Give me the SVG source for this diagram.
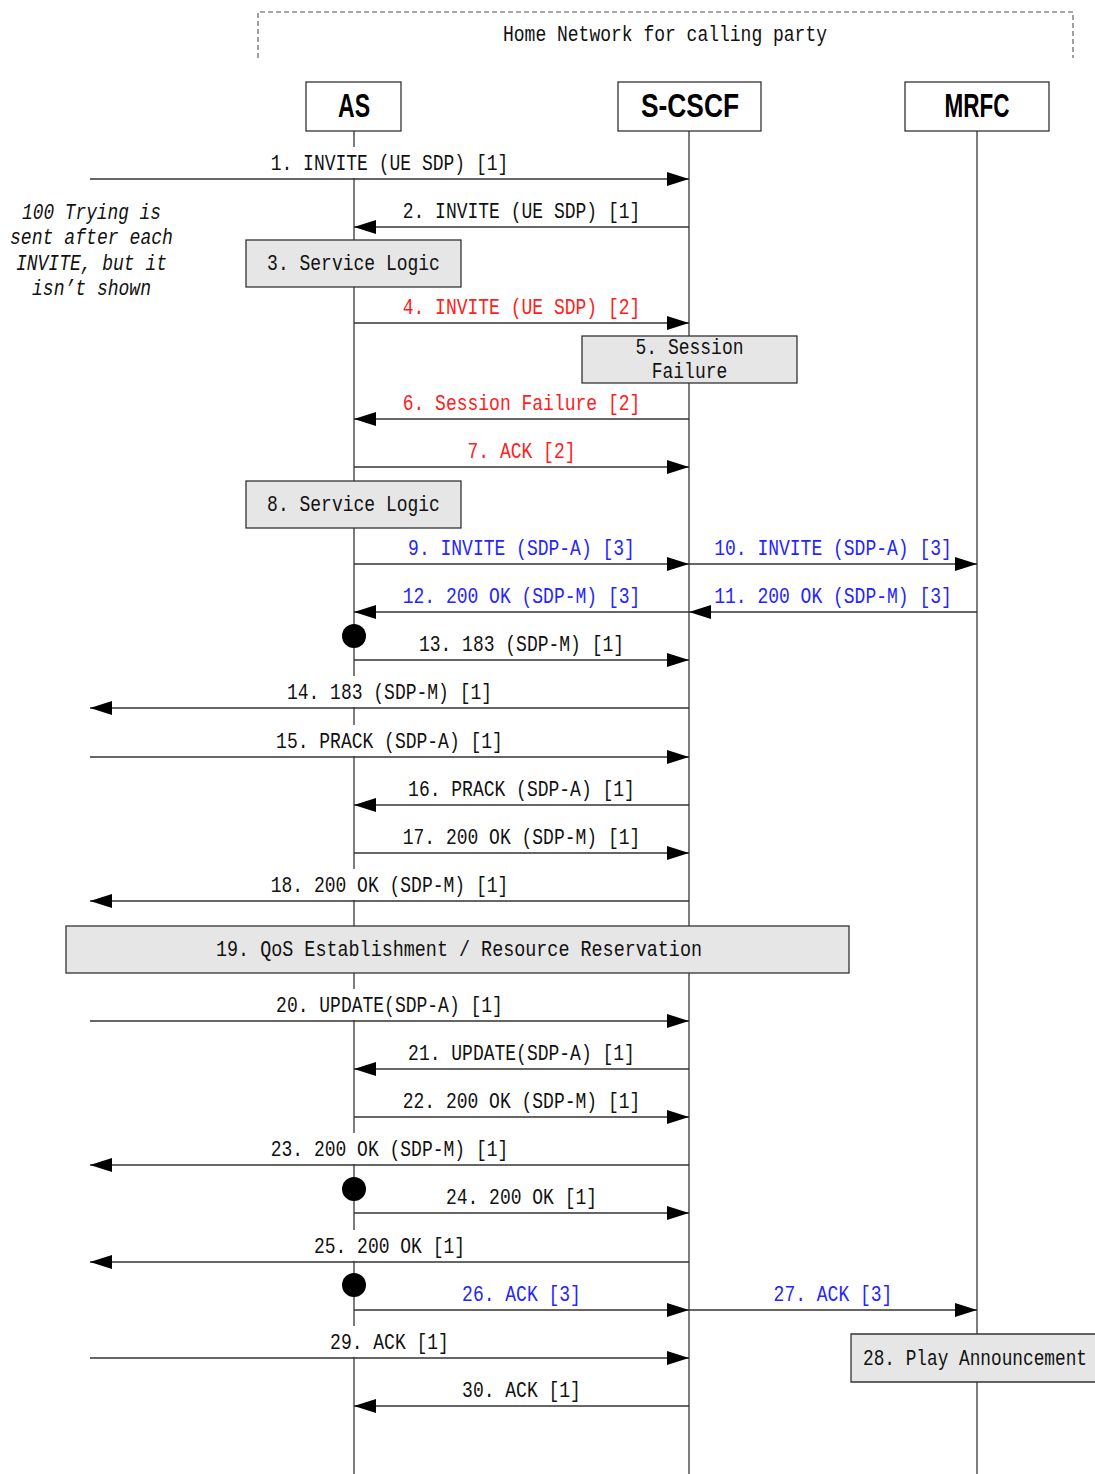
<svg xmlns="http://www.w3.org/2000/svg" width="1095" height="1474" viewBox="0 0 1095 1474">
<style>
.ll{stroke:#111;stroke-width:1.1;fill:none}
.msg{stroke:#333;stroke-width:1.3;fill:none}
.lbl{font-family:"Liberation Mono","DejaVu Sans Mono",monospace;font-size:22px;text-anchor:middle;fill:#111}
.it{font-style:italic}
.bg{fill:#fff}
.box{fill:#e6e6e6;stroke:#333;stroke-width:1.3}
.hdr{fill:#fff;stroke:#333;stroke-width:1.3}
.ttl{font-family:"Liberation Sans",Arial,sans-serif;font-weight:bold;font-size:33px;text-anchor:middle;fill:#000}
.red{fill:#ff2020}
.blue{fill:#2424ff}
.dot{fill:#000}
</style>
<defs>
<marker id="ah" markerUnits="userSpaceOnUse" markerWidth="22" markerHeight="14" refX="22" refY="7" orient="auto">
<path d="M0,0 L22,7 L0,14 z" fill="#000"/>
</marker>
</defs>

<g id="frame">
<path d="M258,58 V12 H1073 V58" fill="none" stroke="#555" stroke-width="1.1" stroke-dasharray="5,3"/>
<text class="lbl" x="665" y="41" textLength="324" lengthAdjust="spacingAndGlyphs">Home Network for calling party</text>
</g>

<g id="lifelines">
<line class="ll" x1="354" y1="131" x2="354" y2="1474"/>
<line class="ll" x1="689" y1="131" x2="689" y2="1474"/>
<line class="ll" x1="977" y1="131" x2="977" y2="1474"/>
</g>

<g id="AS"><rect class="hdr" x="306" y="82" width="95" height="49"/><text class="ttl" x="354" y="117" textLength="32" lengthAdjust="spacingAndGlyphs">AS</text></g>
<g id="S-CSCF"><rect class="hdr" x="618" y="82" width="143" height="49"/><text class="ttl" x="690" y="117" textLength="98" lengthAdjust="spacingAndGlyphs">S-CSCF</text></g>
<g id="MRFC"><rect class="hdr" x="905" y="82" width="144" height="49"/><text class="ttl" x="977" y="117" textLength="65" lengthAdjust="spacingAndGlyphs">MRFC</text></g>

<g id="note">
<text class="lbl it" x="91.5" y="219" textLength="139" lengthAdjust="spacingAndGlyphs">100 Trying is</text>
<text class="lbl it" x="91.5" y="244" textLength="163" lengthAdjust="spacingAndGlyphs">sent after each</text>
<text class="lbl it" x="91.5" y="270" textLength="151" lengthAdjust="spacingAndGlyphs">INVITE, but it</text>
<text class="lbl it" x="91.5" y="295" textLength="119" lengthAdjust="spacingAndGlyphs">isn’t shown</text>
</g>

<g id="connectors">
<line class="msg" x1="90" y1="179" x2="689" y2="179" marker-end="url(#ah)"/>
<line class="msg" x1="689" y1="227" x2="354" y2="227" marker-end="url(#ah)"/>
<line class="msg" x1="354" y1="323" x2="689" y2="323" marker-end="url(#ah)"/>
<line class="msg" x1="689" y1="419" x2="354" y2="419" marker-end="url(#ah)"/>
<line class="msg" x1="354" y1="467" x2="689" y2="467" marker-end="url(#ah)"/>
<line class="msg" x1="354" y1="564" x2="689" y2="564" marker-end="url(#ah)"/>
<line class="msg" x1="689" y1="564" x2="977" y2="564" marker-end="url(#ah)"/>
<line class="msg" x1="977" y1="612" x2="689" y2="612" marker-end="url(#ah)"/>
<line class="msg" x1="689" y1="612" x2="354" y2="612" marker-end="url(#ah)"/>
<line class="msg" x1="354" y1="660" x2="689" y2="660" marker-end="url(#ah)"/>
<line class="msg" x1="689" y1="708" x2="90" y2="708" marker-end="url(#ah)"/>
<line class="msg" x1="90" y1="757" x2="689" y2="757" marker-end="url(#ah)"/>
<line class="msg" x1="689" y1="805" x2="354" y2="805" marker-end="url(#ah)"/>
<line class="msg" x1="354" y1="853" x2="689" y2="853" marker-end="url(#ah)"/>
<line class="msg" x1="689" y1="901" x2="90" y2="901" marker-end="url(#ah)"/>
<line class="msg" x1="90" y1="1021" x2="689" y2="1021" marker-end="url(#ah)"/>
<line class="msg" x1="689" y1="1069" x2="354" y2="1069" marker-end="url(#ah)"/>
<line class="msg" x1="354" y1="1117" x2="689" y2="1117" marker-end="url(#ah)"/>
<line class="msg" x1="689" y1="1165" x2="90" y2="1165" marker-end="url(#ah)"/>
<line class="msg" x1="354" y1="1213" x2="689" y2="1213" marker-end="url(#ah)"/>
<line class="msg" x1="689" y1="1262" x2="90" y2="1262" marker-end="url(#ah)"/>
<line class="msg" x1="354" y1="1310" x2="689" y2="1310" marker-end="url(#ah)"/>
<line class="msg" x1="689" y1="1310" x2="977" y2="1310" marker-end="url(#ah)"/>
<line class="msg" x1="90" y1="1358" x2="689" y2="1358" marker-end="url(#ah)"/>
<line class="msg" x1="689" y1="1406" x2="354" y2="1406" marker-end="url(#ah)"/>
<circle class="dot" cx="354" cy="636" r="12"/>
<circle class="dot" cx="354" cy="1189" r="12"/>
<circle class="dot" cx="354" cy="1285" r="12"/>
</g>

<g id="labels">
<rect class="bg" x="264.7" y="147" width="249.6" height="31"/>
<text class="lbl" x="389.5" y="170" textLength="237.6" lengthAdjust="spacingAndGlyphs">1. INVITE (UE SDP) [1]</text>
<text class="lbl" x="521.5" y="218" textLength="237.6" lengthAdjust="spacingAndGlyphs">2. INVITE (UE SDP) [1]</text>
<text class="lbl red" x="521.5" y="314" textLength="237.6" lengthAdjust="spacingAndGlyphs">4. INVITE (UE SDP) [2]</text>
<text class="lbl red" x="521.5" y="410" textLength="237.6" lengthAdjust="spacingAndGlyphs">6. Session Failure [2]</text>
<text class="lbl red" x="521.5" y="458" textLength="108" lengthAdjust="spacingAndGlyphs">7. ACK [2]</text>
<text class="lbl blue" x="521.5" y="555" textLength="226.8" lengthAdjust="spacingAndGlyphs">9. INVITE (SDP-A) [3]</text>
<text class="lbl blue" x="833" y="555" textLength="237.6" lengthAdjust="spacingAndGlyphs">10. INVITE (SDP-A) [3]</text>
<text class="lbl blue" x="833" y="603" textLength="237.6" lengthAdjust="spacingAndGlyphs">11. 200 OK (SDP-M) [3]</text>
<text class="lbl blue" x="521.5" y="603" textLength="237.6" lengthAdjust="spacingAndGlyphs">12. 200 OK (SDP-M) [3]</text>
<text class="lbl" x="521.5" y="651" textLength="205.2" lengthAdjust="spacingAndGlyphs">13. 183 (SDP-M) [1]</text>
<rect class="bg" x="280.9" y="676" width="217.2" height="31"/>
<text class="lbl" x="389.5" y="699" textLength="205.2" lengthAdjust="spacingAndGlyphs">14. 183 (SDP-M) [1]</text>
<rect class="bg" x="270.1" y="725" width="238.8" height="31"/>
<text class="lbl" x="389.5" y="748" textLength="226.8" lengthAdjust="spacingAndGlyphs">15. PRACK (SDP-A) [1]</text>
<text class="lbl" x="521.5" y="796" textLength="226.8" lengthAdjust="spacingAndGlyphs">16. PRACK (SDP-A) [1]</text>
<text class="lbl" x="521.5" y="844" textLength="237.6" lengthAdjust="spacingAndGlyphs">17. 200 OK (SDP-M) [1]</text>
<rect class="bg" x="264.7" y="869" width="249.6" height="31"/>
<text class="lbl" x="389.5" y="892" textLength="237.6" lengthAdjust="spacingAndGlyphs">18. 200 OK (SDP-M) [1]</text>
<rect class="bg" x="270.1" y="989" width="238.8" height="31"/>
<text class="lbl" x="389.5" y="1012" textLength="226.8" lengthAdjust="spacingAndGlyphs">20. UPDATE(SDP-A) [1]</text>
<text class="lbl" x="521.5" y="1060" textLength="226.8" lengthAdjust="spacingAndGlyphs">21. UPDATE(SDP-A) [1]</text>
<text class="lbl" x="521.5" y="1108" textLength="237.6" lengthAdjust="spacingAndGlyphs">22. 200 OK (SDP-M) [1]</text>
<rect class="bg" x="264.7" y="1133" width="249.6" height="31"/>
<text class="lbl" x="389.5" y="1156" textLength="237.6" lengthAdjust="spacingAndGlyphs">23. 200 OK (SDP-M) [1]</text>
<text class="lbl" x="521.5" y="1204" textLength="151.2" lengthAdjust="spacingAndGlyphs">24. 200 OK [1]</text>
<rect class="bg" x="307.9" y="1230" width="163.2" height="31"/>
<text class="lbl" x="389.5" y="1253" textLength="151.2" lengthAdjust="spacingAndGlyphs">25. 200 OK [1]</text>
<text class="lbl blue" x="521.5" y="1301" textLength="118.8" lengthAdjust="spacingAndGlyphs">26. ACK [3]</text>
<text class="lbl blue" x="833" y="1301" textLength="118.8" lengthAdjust="spacingAndGlyphs">27. ACK [3]</text>
<rect class="bg" x="324.1" y="1326" width="130.8" height="31"/>
<text class="lbl" x="389.5" y="1349" textLength="118.8" lengthAdjust="spacingAndGlyphs">29. ACK [1]</text>
<text class="lbl" x="521.5" y="1397" textLength="118.8" lengthAdjust="spacingAndGlyphs">30. ACK [1]</text>
</g>

<g id="step3"><rect class="box" x="246" y="240" width="215" height="47"/><text class="lbl" x="353.5" y="270" textLength="172.8" lengthAdjust="spacingAndGlyphs">3. Service Logic</text></g>
<g id="step5"><rect class="box" x="582" y="336" width="215" height="47"/><text class="lbl" x="689.5" y="354" textLength="108" lengthAdjust="spacingAndGlyphs">5. Session</text><text class="lbl" x="689.5" y="378" textLength="75.6" lengthAdjust="spacingAndGlyphs">Failure</text></g>
<g id="step8"><rect class="box" x="246" y="481" width="215" height="47"/><text class="lbl" x="353.5" y="511" textLength="172.8" lengthAdjust="spacingAndGlyphs">8. Service Logic</text></g>
<g id="step19"><rect class="box" x="66" y="926" width="783" height="47"/><text class="lbl" x="459" y="956" textLength="486" lengthAdjust="spacingAndGlyphs">19.  QoS Establishment / Resource Reservation</text></g>
<g id="step28"><rect x="851" y="1334" width="244" height="48" fill="#e6e6e6"/><path d="M1095,1334 H851 V1382 H1095" fill="none" stroke="#333" stroke-width="1.3"/><text class="lbl" x="975" y="1365" textLength="224" lengthAdjust="spacingAndGlyphs">28. Play Announcement</text></g>
</svg>
